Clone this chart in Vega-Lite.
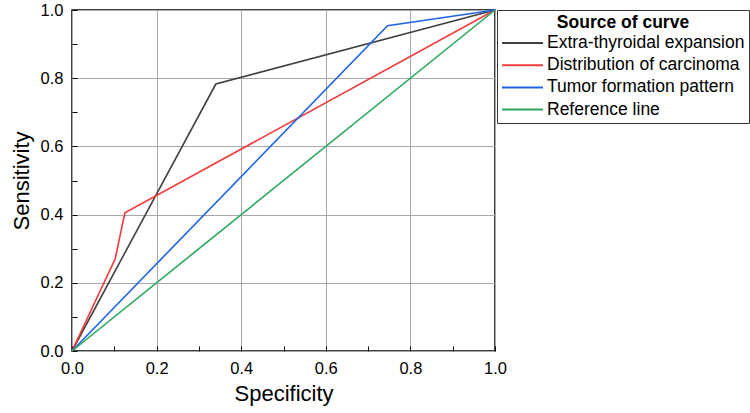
{
  "$schema": "https://vega.github.io/schema/vega-lite/v6.json",
  "width": 423,
  "height": 341,
  "autosize": {"type": "none"},
  "padding": {"left": 72, "top": 10, "right": 255, "bottom": 62},
  "background": "white",
  "config": {
    "font": "Liberation Sans",
    "view": {"stroke": "black", "strokeWidth": 1.5}
  },
  "data": {
    "values": [
      {"curve": "Extra-thyroidal expansion", "idx": 0, "specificity": 0, "sensitivity": 0},
      {"curve": "Extra-thyroidal expansion", "idx": 1, "specificity": 0.34, "sensitivity": 0.783},
      {"curve": "Extra-thyroidal expansion", "idx": 2, "specificity": 1, "sensitivity": 1},
      {"curve": "Distribution of carcinoma", "idx": 0, "specificity": 0, "sensitivity": 0},
      {"curve": "Distribution of carcinoma", "idx": 1, "specificity": 0.102, "sensitivity": 0.27},
      {"curve": "Distribution of carcinoma", "idx": 2, "specificity": 0.125, "sensitivity": 0.405},
      {"curve": "Distribution of carcinoma", "idx": 3, "specificity": 1, "sensitivity": 1},
      {"curve": "Tumor formation pattern", "idx": 0, "specificity": 0, "sensitivity": 0},
      {"curve": "Tumor formation pattern", "idx": 1, "specificity": 0.746, "sensitivity": 0.954},
      {"curve": "Tumor formation pattern", "idx": 2, "specificity": 1, "sensitivity": 1},
      {"curve": "Reference line", "idx": 0, "specificity": 0, "sensitivity": 0},
      {"curve": "Reference line", "idx": 1, "specificity": 1, "sensitivity": 1}
    ]
  },
  "mark": {"type": "line", "strokeWidth": 1.6},
  "encoding": {
    "x": {
      "field": "specificity",
      "type": "quantitative",
      "title": "Specificity",
      "scale": {"domain": [0, 1], "nice": false},
      "axis": {
        "values": [0, 0.1, 0.2, 0.3, 0.4, 0.5, 0.6, 0.7, 0.8, 0.9, 1],
        "format": ".1f",
        "labelExpr": "round(datum.value*10)%2==0 ? datum.label : ''",
        "labelFlush": false,
        "grid": true,
        "gridColor": "#a8a8a8",
        "gridWidth": 1,
        "gridOpacity": {"condition": {"test": "round(datum.value*10)%2==0", "value": 1}, "value": 0},
        "domain": false,
        "tickColor": "black",
        "tickSize": -5,
        "labelPadding": 14,
        "labelFontSize": 16.5,
        "labelColor": "black",
        "titleFontSize": 22,
        "titleFontWeight": "normal",
        "titleColor": "black",
        "titlePadding": 7
      }
    },
    "y": {
      "field": "sensitivity",
      "type": "quantitative",
      "title": "Sensitivity",
      "scale": {"domain": [0, 1], "nice": false},
      "axis": {
        "values": [0, 0.1, 0.2, 0.3, 0.4, 0.5, 0.6, 0.7, 0.8, 0.9, 1],
        "format": ".1f",
        "labelExpr": "round(datum.value*10)%2==0 ? datum.label : ''",
        "labelFlush": false,
        "grid": true,
        "gridColor": "#a8a8a8",
        "gridWidth": 1,
        "gridOpacity": {"condition": {"test": "round(datum.value*10)%2==0", "value": 1}, "value": 0},
        "domain": false,
        "tickColor": "black",
        "tickSize": -5,
        "labelPadding": 14,
        "labelFontSize": 16.5,
        "labelColor": "black",
        "titleFontSize": 22,
        "titleFontWeight": "normal",
        "titleColor": "black",
        "titlePadding": 7
      }
    },
    "color": {
      "field": "curve",
      "type": "nominal",
      "title": "Source of curve",
      "scale": {
        "domain": ["Extra-thyroidal expansion", "Distribution of carcinoma", "Tumor formation pattern", "Reference line"],
        "range": ["#404040", "#f03c3c", "#1e64e6", "#28a85e"]
      },
      "legend": {
        "orient": "right",
        "offset": -2,
        "padding": 4,
        "strokeColor": "#333333",
        "symbolType": "M-1,0H3.82",
        "symbolSize": 289,
        "symbolStrokeWidth": 2,
        "labelFontSize": 17.5,
        "labelColor": "black",
        "labelOffset": 27,
        "titleFontSize": 17.5,
        "titleFontWeight": "bold",
        "titleColor": "black",
        "titleAnchor": "middle",
        "titlePadding": 2,
        "rowPadding": 4.2,
        "labelLimit": 300
      }
    },
    "order": {"field": "idx", "type": "quantitative"}
  }
}
